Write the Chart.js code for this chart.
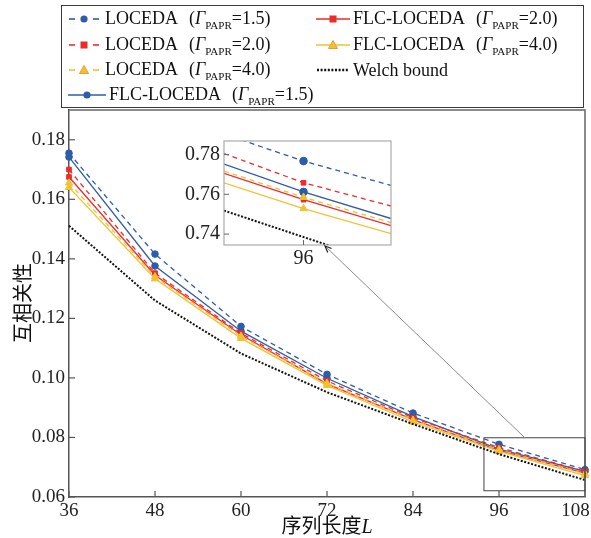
<!DOCTYPE html>
<html><head><meta charset="utf-8">
<script src="https://cdn.jsdelivr.net/npm/chart.js@4.4.0/dist/chart.umd.min.js"></script>
<style>
html,body{margin:0;padding:0;background:#fff;}
#wrap{position:relative;width:591px;height:538px;overflow:hidden;font-family:"Liberation Serif","Times New Roman",serif;color:#111;}
canvas{position:absolute;left:0;top:0;}
#legend{position:absolute;left:61px;top:5px;width:521px;height:101px;border:1.5px solid #3a3a3a;}
.item{position:absolute;height:24px;display:flex;align-items:center;font-size:18px;white-space:nowrap;}
.item svg{margin-right:3px;flex:none;}
.item i{font-style:italic;}
.item sub{font-size:11px;vertical-align:-5px;}
.par{margin-left:11px;}
#ytitle{position:absolute;left:-18px;top:291px;width:80px;height:24px;text-align:center;transform:rotate(-90deg);font-family:"Noto Sans CJK SC",sans-serif;font-size:20px;line-height:24px;}
#xtitle{position:absolute;left:227px;top:513px;width:200px;text-align:center;font-family:"Noto Sans CJK SC",sans-serif;font-size:20px;line-height:24px;}
#xtitle i{font-family:"Liberation Serif",serif;font-style:italic;}
</style></head><body>
<div id="wrap">
<canvas id="main" width="591" height="538"></canvas>
<canvas id="inset" width="591" height="538"></canvas>
<div id="legend"></div>
<div id="ytitle">互相关性</div>
<div id="xtitle">序列长度<i>L</i></div>
</div>
<script>
// ---- data (main chart) ----
const lengths   = [36, 48, 60, 72, 84, 96, 108];
const xTicks    = [36, 48, 60, 72, 84, 96, 108];
const yTicks    = [0.06, 0.08, 0.10, 0.12, 0.14, 0.16, 0.18];
const locedaP15 = [0.1755, 0.1416, 0.1173, 0.1012, 0.0882, 0.0777, 0.0692];
const locedaP20 = [0.1700, 0.1352, 0.1150, 0.0990, 0.0866, 0.0766, 0.0686];
const locedaP40 = [0.1655, 0.1340, 0.1140, 0.0982, 0.0858, 0.0759, 0.0678];
const flcP15    = [0.1742, 0.1376, 0.1157, 0.0999, 0.0870, 0.0761, 0.0686];
const flcP20    = [0.1675, 0.1345, 0.1145, 0.0980, 0.0860, 0.0757, 0.0680];
const flcP40    = [0.1640, 0.1333, 0.1133, 0.0975, 0.0852, 0.0753, 0.0672];
const welch     = [0.1511, 0.1260, 0.1082, 0.0952, 0.0845, 0.0744, 0.0657];

// ---- data (inset, as labelled in the zoomed view) ----
const insetX       = [95, 96, 97.1];
const insetYTicks  = [0.74, 0.76, 0.78];
const insetXTicks  = [96];
const inLocedaP15  = [0.7903, 0.7767, 0.7645];
const inLocedaP20  = [0.7805, 0.7658, 0.7541];
const inLocedaP40  = [0.7717, 0.7585, 0.7458];
const inFlcP15     = [0.7752, 0.7612, 0.7478];
const inFlcP20     = [0.7705, 0.7573, 0.7442];
const inFlcP40     = [0.7658, 0.7528, 0.7402];
const inWelch      = [0.7518, 0.7385, 0.7240];

// zoom box & arrow anchors (data coords)
const zoomBoxX = [93.9, 108];
const zoomBoxY = [0.0621, 0.0799];
const arrowTail = [99.6, 0.0799];
const arrowHeadX = 96.27;

const BLUE='#2c5caa', RED='#ee2a2a', YEL='#f0c233', BLK='#111';
const SERIF='"Liberation Serif","Times New Roman",serif';

function mk(xs, label, vals, color, dash, shape, rad, onlyMid){
  return {label, data: xs.map((x,i)=>({x, y: vals[i]})), borderColor: color, backgroundColor: color,
    borderWidth: 1.3, borderDash: dash, pointStyle: shape,
    pointRadius: onlyMid ? (c=>c.dataIndex===1?rad:0) : rad, pointBorderWidth: 1, clip: false, tension: 0};
}
function series(xs, a, mid){
  return [
    mk(xs,'Welch bound', a[6], BLK, [2,1.6], 'circle', 0, mid),
    mk(xs,'LOCEDA 4.0', a[2], YEL, [5,4], 'triangle', 4.2, mid),
    mk(xs,'FLC-LOCEDA 4.0', a[5], YEL, [], 'triangle', 4.2, mid),
    mk(xs,'LOCEDA 2.0', a[1], RED, [5,4], 'rect', 3.3, mid),
    mk(xs,'FLC-LOCEDA 2.0', a[4], RED, [], 'rect', 3.3, mid),
    mk(xs,'LOCEDA 1.5', a[0], BLUE, [5,4], 'circle', 3.3, mid),
    mk(xs,'FLC-LOCEDA 1.5', a[3], BLUE, [], 'circle', 3.3, mid),
  ].map(d=>{ if(d.label==='Welch bound'){d.borderWidth=2;} return d; });
}

const mainPlugin = {
  id:'mainDeco',
  afterDraw(chart){
    const {ctx, chartArea:a, scales:{x,y}} = chart;
    ctx.save();
    ctx.strokeStyle='#555'; ctx.lineWidth=1.2;
    x.ticks.forEach(t=>{const p=x.getPixelForValue(t.value); ctx.beginPath(); ctx.moveTo(p,a.bottom); ctx.lineTo(p,a.bottom-6); ctx.stroke();});
    y.ticks.forEach(t=>{const p=y.getPixelForValue(t.value); ctx.beginPath(); ctx.moveTo(a.left,p); ctx.lineTo(a.left+6,p); ctx.stroke();});
    ctx.strokeStyle='#666'; ctx.lineWidth=1.5;
    ctx.beginPath(); ctx.moveTo(a.left,a.top); ctx.lineTo(a.right,a.top); ctx.lineTo(a.right,a.bottom); ctx.stroke();
    // zoom box
    const x0=x.getPixelForValue(zoomBoxX[0]), x1=x.getPixelForValue(zoomBoxX[1]);
    const y0=y.getPixelForValue(zoomBoxY[1]), y1=y.getPixelForValue(zoomBoxY[0]);
    ctx.strokeStyle='#444'; ctx.lineWidth=1;
    ctx.strokeRect(x0,y0,x1-x0,y1-y0);
    ctx.restore();
  }
};

const mainChart = new Chart(document.getElementById('main'), {
  type:'line',
  data:{datasets: series(lengths,[locedaP15,locedaP20,locedaP40,flcP15,flcP20,flcP40,welch], false)},
  options:{
    responsive:false, animation:false, events:[],
    layout:{padding:{left:0,right:6,top:110,bottom:0}},
    plugins:{legend:{display:false}, tooltip:{enabled:false}},
    scales:{
      x:{type:'linear', min:36, max:108,
        afterBuildTicks:s=>{s.ticks=xTicks.map(v=>({value:v}));},
        afterFit:s=>{s.height=41; s.paddingLeft=0; s.paddingRight=0;},
        grid:{display:false, drawTicks:false}, border:{display:true,color:'#555',width:1.5},
        ticks:{font:{family:SERIF,size:19}, color:'#222', padding:3, maxRotation:0, autoSkip:false,
          callback:(v,i,arr)=> i===arr.length-1 ? String(v)+'\u2007\u2007' : String(v)}},
      y:{type:'linear', min:0.06, max:0.19,
        afterBuildTicks:s=>{s.ticks=yTicks.map(v=>({value:v}));},
        afterFit:s=>{s.width=69; s.paddingTop=0; s.paddingBottom=0;},
        grid:{display:false, drawTicks:false}, border:{display:true,color:'#555',width:1.5},
        ticks:{font:{family:SERIF,size:19}, color:'#222', padding:4, autoSkip:false, callback:v=>Number(v).toFixed(2)}}
    }
  },
  plugins:[mainPlugin]
});

const insetPlugin = {
  id:'insetDeco',
  beforeDraw(chart){
    const {ctx, chartArea:a} = chart;
    ctx.save(); ctx.fillStyle='#fff'; ctx.fillRect(a.left,a.top,a.right-a.left,a.bottom-a.top); ctx.restore();
  },
  afterDraw(chart){
    const {ctx, chartArea:a, scales:{x,y}} = chart;
    ctx.save();
    ctx.strokeStyle='#aaa'; ctx.lineWidth=1.2;
    ctx.strokeRect(a.left,a.top,a.right-a.left,a.bottom-a.top);
    ctx.strokeStyle='#666'; ctx.lineWidth=1;
    y.ticks.forEach(t=>{const p=y.getPixelForValue(t.value); ctx.beginPath(); ctx.moveTo(a.left,p); ctx.lineTo(a.left+5,p); ctx.stroke();});
    x.ticks.forEach(t=>{const p=x.getPixelForValue(t.value); ctx.beginPath(); ctx.moveTo(p,a.bottom); ctx.lineTo(p,a.bottom-5); ctx.stroke();});
    // arrow from zoom box to inset
    const mx=mainChart.scales.x, my=mainChart.scales.y;
    const tx=mx.getPixelForValue(arrowTail[0]), ty=my.getPixelForValue(arrowTail[1]);
    const hx=x.getPixelForValue(arrowHeadX), hy=a.bottom+1;
    ctx.strokeStyle='#8a8a8a'; ctx.lineWidth=1;
    ctx.beginPath(); ctx.moveTo(tx,ty); ctx.lineTo(hx,hy); ctx.stroke();
    const ang=Math.atan2(hy-ty,hx-tx), L=7, w=0.4;
    ctx.strokeStyle='#222'; ctx.lineWidth=1.2;
    ctx.beginPath();
    ctx.moveTo(hx-L*Math.cos(ang-w), hy-L*Math.sin(ang-w)); ctx.lineTo(hx,hy);
    ctx.lineTo(hx-L*Math.cos(ang+w), hy-L*Math.sin(ang+w)); ctx.stroke();
    ctx.restore();
  }
};

new Chart(document.getElementById('inset'), {
  type:'line',
  data:{datasets: series(insetX,[inLocedaP15,inLocedaP20,inLocedaP40,inFlcP15,inFlcP20,inFlcP40,inWelch], true)
    .map(d=>{ d.clip=true; if(d.pointStyle==='circle' && d.label!=='Welch bound'){d.pointRadius=c=>c.dataIndex===1?3.8:0;} return d; })},
  options:{
    responsive:false, animation:false, events:[],
    layout:{padding:{left:180,right:200,top:141,bottom:268}},
    plugins:{legend:{display:false}, tooltip:{enabled:false}},
    scales:{
      x:{type:'linear', min:95, max:97.1,
        afterBuildTicks:s=>{s.ticks=insetXTicks.map(v=>({value:v}));},
        afterFit:s=>{s.height=25; s.paddingLeft=0; s.paddingRight=0;},
        grid:{display:false, drawTicks:false}, border:{display:false},
        ticks:{font:{family:SERIF,size:20}, color:'#222', padding:2, maxRotation:0, callback:v=>String(v)}},
      y:{type:'linear', min:0.7345, max:0.7868,
        afterBuildTicks:s=>{s.ticks=insetYTicks.map(v=>({value:v}));},
        afterFit:s=>{s.width=44; s.paddingTop=0; s.paddingBottom=0;},
        grid:{display:false, drawTicks:false}, border:{display:false},
        ticks:{font:{family:SERIF,size:20}, color:'#222', padding:4, callback:v=>Number(v).toFixed(2)}}
    }
  },
  plugins:[insetPlugin]
});

// ---- legend (HTML text) ----
function sample(color, dashed, shape, w){
  w = w || 36;
  const m=w/2, y=7;
  let s=`<svg width="${w}" height="14" viewBox="0 0 ${w} 14">`;
  if(shape==='dot'){
    s+=`<line x1="1" y1="${y}" x2="${w-1}" y2="${y}" stroke="${color}" stroke-width="2.4" stroke-dasharray="2,1.6"/>`;
  } else if(dashed){
    s+=`<line x1="3" y1="${y}" x2="9" y2="${y}" stroke="${color}" stroke-width="1.6"/>`;
    s+=`<line x1="${w-9}" y1="${y}" x2="${w-3}" y2="${y}" stroke="${color}" stroke-width="1.6"/>`;
  } else {
    s+=`<line x1="0" y1="${y}" x2="${w}" y2="${y}" stroke="${color}" stroke-width="1.6"/>`;
  }
  if(shape==='circle') s+=`<circle cx="${m}" cy="${y}" r="3.6" fill="${color}"/>`;
  if(shape==='rect') s+=`<rect x="${m-3.5}" y="${y-3.5}" width="7" height="7" fill="${color}"/>`;
  if(shape==='tri') s+=`<polygon points="${m},${y-4.5} ${m+4.5},${y+3.5} ${m-4.5},${y+3.5}" fill="${color}" stroke="#e0a030" stroke-width="1"/>`;
  return s+'</svg>';
}
const G = v => `<span class="par">(<i>Γ</i><sub>PAPR</sub>=${v})</span>`;
const legendItems = [
  {x:66, y:19, svg:sample(BLUE,true,'circle'), text:'LOCEDA'+G('1.5')},
  {x:66, y:45, svg:sample(RED,true,'rect'), text:'LOCEDA'+G('2.0')},
  {x:66, y:70, svg:sample(YEL,true,'tri'), text:'LOCEDA'+G('4.0')},
  {x:68, y:95, svg:sample(BLUE,false,'circle',38), text:'FLC-LOCEDA'+G('1.5')},
  {x:316, y:19, svg:sample(RED,false,'rect',34), text:'FLC-LOCEDA'+G('2.0')},
  {x:316, y:45, svg:sample(YEL,false,'tri',34), text:'FLC-LOCEDA'+G('4.0')},
  {x:316, y:70, svg:sample(BLK,false,'dot',34), text:'Welch bound'},
];
const wrap=document.getElementById('wrap');
legendItems.forEach(it=>{
  const d=document.createElement('div'); d.className='item';
  d.style.left=it.x+'px'; d.style.top=(it.y-12)+'px';
  d.innerHTML=it.svg+'<span>'+it.text+'</span>';
  wrap.appendChild(d);
});
</script>
</body></html>
